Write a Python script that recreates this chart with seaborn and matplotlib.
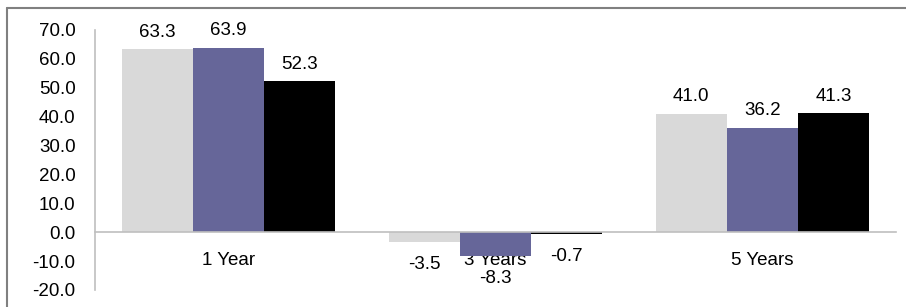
import pandas as pd
import matplotlib.pyplot as plt
import seaborn as sns
from matplotlib.lines import Line2D

# Data
periods = ["1 Year", "3 Years", "5 Years"]
series_names = ["Series 1", "Series 2", "Series 3"]
series_1 = [63.3, -3.5, 41.0]
series_2 = [63.9, -8.3, 36.2]
series_3 = [52.3, -0.7, 41.3]
y_ticks = [70, 60, 50, 40, 30, 20, 10, 0, -10, -20]

colors = ["#D9D9D9", "#666699", "#000000"]

df = pd.DataFrame({
    "period": periods * 3,
    "series": [s for s in series_names for _ in periods],
    "value": series_1 + series_2 + series_3,
})

sns.set_style("white")
plt.rcParams["font.family"] = ["Liberation Sans", "DejaVu Sans"]
fs = 13.5

fig = plt.figure(figsize=(9.06, 3.07), dpi=100)
ax = fig.add_axes([95 / 906, 1 - 290 / 307, (896 - 95) / 906, 260 / 307])

sns.barplot(data=df, x="period", y="value", hue="series", palette=colors,
            saturation=1, width=0.8, edgecolor="none", linewidth=0,
            legend=False, ax=ax)

# Value labels: above positive bars, a bit further below negative ones
for cont in ax.containers:
    vals = cont.datavalues
    ax.bar_label(cont, labels=[f"{v:.1f}" if v >= 0 else "" for v in vals],
                 padding=6, fontsize=fs, color="black")
    ax.bar_label(cont, labels=[f"{v:.1f}" if v < 0 else "" for v in vals],
                 padding=10, fontsize=fs, color="black")

ax.set_ylim(-20, 70)
ax.set_xlim(-0.5, 2.5)
ax.set_yticks(y_ticks)
ax.set_yticklabels([f"{v:.1f}" for v in y_ticks])
ax.set_xlabel("")
ax.set_ylabel("")

# Spines: zero line as bottom axis, left axis in gray
ax.spines["bottom"].set_position(("data", 0))
for s in ["top", "right"]:
    ax.spines[s].set_visible(False)
for s in ["bottom", "left"]:
    ax.spines[s].set_color("#BFBFBF")
    ax.spines[s].set_linewidth(1.2)

ax.tick_params(axis="x", length=0, pad=14, labelsize=fs, colors="black")
ax.tick_params(axis="y", length=0, pad=14, labelsize=fs, colors="black")

# Outer frame of the chart area
fig.add_artist(Line2D([7 / 906, 7 / 906], [0, 1 - 8 / 307], color="#808080", lw=1.5))
fig.add_artist(Line2D([7 / 906, 1], [1 - 8 / 307, 1 - 8 / 307], color="#808080", lw=1.5))

fig.savefig("out.png", dpi=100)
